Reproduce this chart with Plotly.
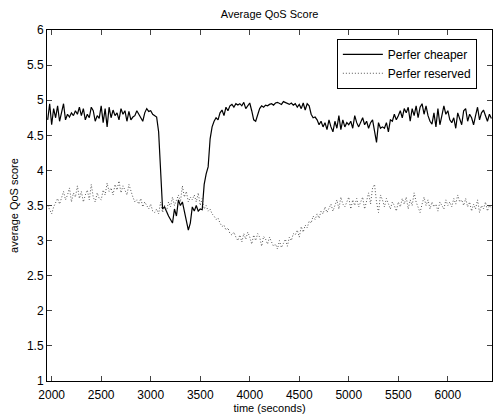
import numpy as np
import plotly.graph_objects as go

t_start, t_step = 1960, 20

cheaper = [
    4.72, 4.95, 4.65, 4.88, 4.75,
    4.92, 4.70, 4.85, 4.95, 4.72,
    4.80, 4.76, 4.82, 4.78, 4.85,
    4.80, 4.90, 4.78, 4.88, 4.72,
    4.80, 4.75, 4.90, 4.85, 4.70,
    4.78, 4.74, 4.92, 4.68, 4.88,
    4.62, 4.90, 4.75, 4.86, 4.78,
    4.82, 4.72, 4.88, 4.80, 4.85,
    4.70, 4.84, 4.72, 4.76, 4.78,
    4.85, 4.80, 4.76, 4.70, 4.82,
    4.88, 4.84, 4.85, 4.80, 4.78,
    4.76, 4.55, 3.95, 3.45, 3.48,
    3.40, 3.35, 3.30, 3.25, 3.45,
    3.35, 3.58, 3.50, 3.55, 3.40,
    3.30, 3.15, 3.25, 3.48, 3.42,
    3.50, 3.42, 3.45, 3.44, 3.80,
    3.95, 4.05, 4.45, 4.62, 4.70,
    4.75, 4.72, 4.82, 4.86, 4.78,
    4.90, 4.85, 4.92, 4.94, 4.90,
    4.95, 4.93, 4.95, 4.92, 4.97,
    4.88, 4.92, 4.96, 4.85, 4.72,
    4.70, 4.78, 4.88, 4.92, 4.90,
    4.93, 4.92, 4.94, 4.95, 4.93,
    4.96, 4.97, 4.95, 4.94, 4.98,
    4.97, 4.96, 4.94, 4.96, 4.93,
    4.95, 4.90, 4.94, 4.88, 4.96,
    4.86, 4.95, 4.92, 4.80, 4.75,
    4.76, 4.72, 4.65, 4.70, 4.62,
    4.68, 4.58, 4.72, 4.62, 4.55,
    4.70, 4.60, 4.78, 4.58, 4.72,
    4.62, 4.68, 4.65, 4.70, 4.60,
    4.78, 4.68, 4.62, 4.70, 4.75,
    4.65, 4.70, 4.60, 4.68, 4.72,
    4.55, 4.40, 4.68, 4.60, 4.62,
    4.60, 4.68, 4.55, 4.72, 4.70,
    4.80, 4.72, 4.78, 4.85, 4.75,
    4.88, 4.82, 4.90, 4.70, 4.88,
    4.78, 4.92, 4.75, 4.90, 4.95,
    4.80, 4.92, 4.78, 4.70, 4.66,
    4.82, 4.62, 4.88, 4.65, 4.78,
    4.92, 4.80, 4.85, 4.72, 4.68,
    4.75, 4.60, 4.82, 4.72, 4.65,
    4.85, 4.88, 4.70, 4.80, 4.75,
    4.65, 4.78, 4.90, 4.72, 4.82,
    4.86, 4.78, 4.70, 4.80, 4.74,
]

reserved = [
    3.50, 3.45, 3.38, 3.48, 3.55,
    3.60, 3.52, 3.62, 3.70, 3.58,
    3.65, 3.75, 3.55, 3.68, 3.62,
    3.78, 3.60, 3.70, 3.55, 3.65,
    3.72, 3.58, 3.80, 3.62, 3.55,
    3.68, 3.60, 3.58, 3.72, 3.65,
    3.82, 3.70, 3.75, 3.65, 3.80,
    3.72, 3.85, 3.68, 3.78, 3.72,
    3.65, 3.80, 3.70, 3.62, 3.55,
    3.58, 3.52, 3.60, 3.48, 3.55,
    3.50, 3.45, 3.52, 3.42, 3.40,
    3.45, 3.38, 3.55, 3.40, 3.50,
    3.42, 3.55, 3.48, 3.62, 3.50,
    3.58, 3.65, 3.55, 3.78, 3.62,
    3.70, 3.55, 3.62, 3.58, 3.65,
    3.55, 3.68, 3.50, 3.60, 3.45,
    3.50, 3.42, 3.45, 3.38, 3.35,
    3.30, 3.32, 3.25, 3.20, 3.22,
    3.15, 3.18, 3.10, 3.08, 3.12,
    3.05, 3.00, 3.08, 2.98, 3.10,
    3.02, 3.12, 3.05, 2.95, 3.08,
    3.00, 3.10, 3.05, 2.92, 3.06,
    3.02, 2.95, 3.05, 2.98, 2.92,
    2.95, 2.88, 3.00, 2.90, 2.96,
    3.02, 2.92, 3.05, 3.00, 3.10,
    3.08, 3.15, 3.05, 3.20, 3.12,
    3.22, 3.18, 3.28, 3.25, 3.35,
    3.30, 3.38, 3.32, 3.42, 3.38,
    3.48, 3.40, 3.45, 3.52, 3.42,
    3.50, 3.58, 3.45, 3.62, 3.52,
    3.48, 3.55, 3.62, 3.45, 3.58,
    3.50, 3.60, 3.48, 3.55, 3.62,
    3.45, 3.58, 3.68, 3.52, 3.75,
    3.80, 3.55, 3.40, 3.65, 3.58,
    3.48, 3.60, 3.52, 3.45, 3.55,
    3.50, 3.42, 3.55, 3.48, 3.60,
    3.52, 3.62, 3.45, 3.58, 3.50,
    3.68, 3.55, 3.48, 3.40, 3.52,
    3.62, 3.50, 3.58, 3.45, 3.55,
    3.48, 3.52, 3.42, 3.55, 3.50,
    3.45, 3.58, 3.50, 3.55, 3.48,
    3.60, 3.52, 3.65, 3.55, 3.58,
    3.50, 3.60, 3.48, 3.55, 3.42,
    3.52, 3.45, 3.58, 3.40, 3.50,
    3.45, 3.55, 3.42, 3.50, 3.46,
]

x_ticks = [2000, 2500, 3000, 3500, 4000, 4500, 5000, 5500, 6000]
y_ticks = [1, 1.5, 2, 2.5, 3, 3.5, 4, 4.5, 5, 5.5, 6]
y_labels = ["1", "1.5", "2", "2.5", "3", "3.5", "4", "4.5", "5", "5.5", "6"]

times = t_start + t_step * np.arange(len(cheaper))

fig = go.Figure()
fig.add_trace(go.Scatter(x=times, y=cheaper, mode="lines", name="Perfer cheaper",
                         line=dict(color="black", width=1.2)))
fig.add_trace(go.Scatter(x=times, y=reserved, mode="lines", name="Perfer reserved",
                         line=dict(color="#555555", width=1, dash="1px,2px")))

font = dict(family="Liberation Sans, Arial, sans-serif", size=12, color="black")
fig.update_layout(
    width=493, height=414,
    margin=dict(l=47, r=1, t=30, b=33),
    paper_bgcolor="white", plot_bgcolor="white",
    font=font,
    title=dict(text="Average QoS Score", x=0.547, xanchor="center", y=0.965, yanchor="middle",
               font=dict(size=11, family="Liberation Sans, Arial, sans-serif", color="black")),
    showlegend=True,
    legend=dict(x=0.966, xanchor="right", y=0.975, yanchor="top",
                bordercolor="black", borderwidth=1, bgcolor="white",
                font=dict(size=12), tracegroupgap=0, itemwidth=40),
)
fig.update_xaxes(range=[1953, 6446], tickvals=x_ticks, ticks="inside", ticklen=5,
                 showline=True, linecolor="black", linewidth=1, mirror="ticks",
                 showgrid=False, zeroline=False, ticklabelstandoff=3,
                 title=dict(text="time (seconds)", standoff=0, font=dict(size=11)),
                 tickfont=dict(size=12))
fig.update_yaxes(range=[1, 6], tickvals=y_ticks, ticktext=y_labels, ticks="inside", ticklen=5,
                 showline=True, linecolor="black", linewidth=1, mirror="ticks",
                 showgrid=False, zeroline=False,
                 title=dict(text="average QoS score", standoff=6, font=dict(size=11)),
                 tickfont=dict(size=12))

fig.write_html("out.html")
